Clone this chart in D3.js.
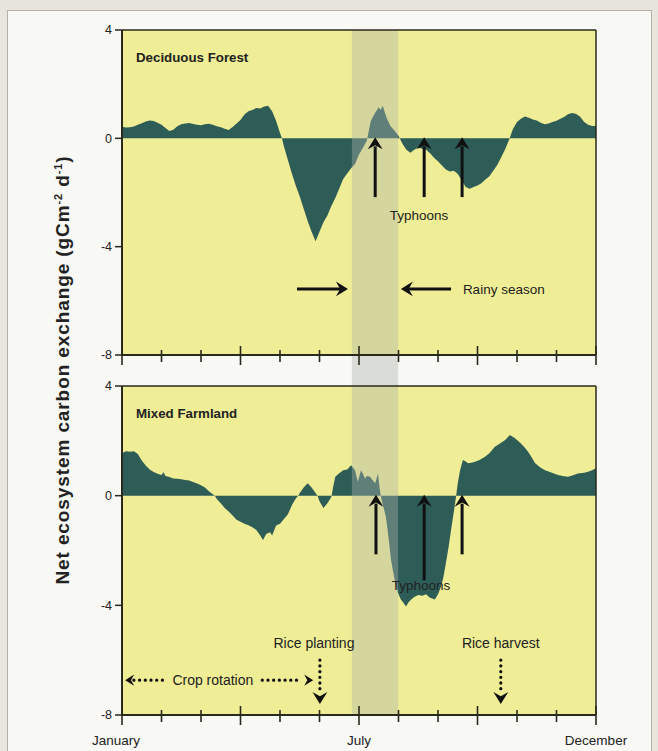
<!DOCTYPE html>
<html><head><meta charset="utf-8">
<script src="https://cdn.jsdelivr.net/npm/d3@7"></script>
<style>
body{margin:0;background:#e8e6dc;}
svg{display:block;}
text{font-family:"Liberation Sans",Arial,sans-serif;fill:#222;}
</style>
</head><body>
<svg id="c" width="658" height="751"></svg>
<script>
// ---------------- DATA ----------------
const forestMonth = [0.0,0.1,0.2,0.3,0.4,0.5,0.6,0.7,0.8,0.9,1.0,1.1,1.2,1.3,1.4,1.5,1.6,1.7,1.8,1.9,2.0,2.1,2.2,2.3,2.4,2.5,2.6,2.7,2.8,2.9,3.0,3.1,3.2,3.3,3.4,3.5,3.6,3.7,3.8,3.9,4.0,4.05,4.1,4.2,4.3,4.4,4.5,4.6,4.7,4.8,4.9,5.0,5.1,5.2,5.3,5.4,5.5,5.6,5.7,5.8,5.9,6.0,6.1,6.2,6.25,6.3,6.4,6.5,6.55,6.6,6.7,6.8,6.9,7.0,7.1,7.2,7.3,7.4,7.5,7.6,7.7,7.8,7.9,8.0,8.1,8.2,8.3,8.4,8.5,8.6,8.7,8.8,8.9,9.0,9.1,9.2,9.3,9.4,9.5,9.6,9.7,9.8,9.85,9.9,10.0,10.1,10.2,10.3,10.4,10.5,10.6,10.7,10.8,10.9,11.0,11.1,11.2,11.3,11.4,11.5,11.6,11.7,11.8,11.9,12.0];
const forestNEE = [0.43,0.40,0.41,0.44,0.50,0.56,0.62,0.66,0.64,0.58,0.50,0.38,0.27,0.32,0.45,0.52,0.55,0.57,0.53,0.50,0.48,0.52,0.54,0.50,0.45,0.41,0.35,0.31,0.42,0.55,0.68,0.88,1.00,1.05,1.12,1.10,1.18,1.20,1.00,0.65,0.20,0.0,-0.30,-0.80,-1.30,-1.75,-2.15,-2.60,-3.05,-3.45,-3.80,-3.45,-3.10,-2.85,-2.50,-2.20,-1.85,-1.50,-1.30,-1.10,-0.95,-0.60,-0.35,-0.08,0.30,0.65,0.92,1.15,1.05,1.20,0.75,0.45,0.28,0.10,-0.20,-0.42,-0.53,-0.42,-0.34,-0.38,-0.42,-0.55,-0.72,-0.85,-1.00,-1.15,-1.22,-1.20,-1.32,-1.55,-1.80,-1.86,-1.80,-1.74,-1.66,-1.52,-1.40,-1.20,-0.98,-0.70,-0.40,-0.05,0.15,0.35,0.60,0.72,0.81,0.76,0.70,0.66,0.58,0.52,0.55,0.60,0.65,0.72,0.80,0.90,0.94,0.90,0.80,0.60,0.50,0.46,0.46];

const farmMonth = [0.0,0.1,0.2,0.3,0.4,0.5,0.6,0.7,0.8,0.9,1.0,1.05,1.1,1.2,1.3,1.4,1.5,1.6,1.7,1.8,1.9,2.0,2.1,2.2,2.3,2.35,2.4,2.5,2.6,2.7,2.8,2.9,3.0,3.1,3.2,3.3,3.4,3.5,3.57,3.65,3.75,3.8,3.9,4.0,4.1,4.2,4.3,4.4,4.46,4.5,4.6,4.7,4.8,4.9,4.95,5.0,5.1,5.2,5.3,5.35,5.4,5.5,5.6,5.7,5.8,5.9,5.97,6.05,6.1,6.15,6.2,6.28,6.35,6.41,6.48,6.52,6.55,6.6,6.68,6.75,6.81,6.88,6.94,7.0,7.06,7.12,7.19,7.25,7.32,7.4,7.5,7.6,7.7,7.75,7.8,7.92,8.0,8.08,8.14,8.2,8.27,8.33,8.4,8.46,8.5,8.56,8.63,8.7,8.76,8.85,8.94,9.05,9.19,9.3,9.44,9.55,9.7,9.82,9.95,10.1,10.2,10.28,10.37,10.46,10.6,10.71,10.85,11.04,11.15,11.29,11.4,11.54,11.7,11.8,11.9,12.0];
const farmNEE = [1.55,1.62,1.60,1.62,1.52,1.28,1.10,0.95,0.86,0.80,0.75,0.85,0.72,0.68,0.63,0.62,0.60,0.57,0.55,0.50,0.44,0.38,0.30,0.16,0.05,0.0,-0.12,-0.28,-0.45,-0.58,-0.72,-0.88,-0.95,-1.02,-1.08,-1.15,-1.25,-1.45,-1.62,-1.40,-1.33,-1.45,-1.09,-1.02,-0.85,-0.68,-0.35,-0.10,0.0,0.10,0.30,0.45,0.30,0.10,0.0,-0.20,-0.45,-0.28,-0.05,0.35,0.69,0.82,0.93,0.95,1.11,0.93,0.51,0.93,0.80,0.63,0.72,0.69,0.55,0.45,0.81,0.30,0.0,-0.30,-0.76,-1.55,-2.34,-2.90,-3.31,-3.60,-3.79,-3.90,-4.04,-3.90,-3.79,-3.70,-3.62,-3.65,-3.60,-3.67,-3.72,-3.79,-3.60,-3.30,-2.95,-2.46,-1.85,-1.25,-0.60,0.0,0.45,0.93,1.30,1.25,1.18,1.20,1.24,1.30,1.42,1.55,1.78,1.88,2.03,2.21,2.09,1.90,1.75,1.60,1.40,1.18,1.02,0.93,0.85,0.75,0.72,0.69,0.74,0.81,0.84,0.87,0.93,1.0];

const yTicks = [4, 0, -4, -8];
const monthTicks = [0,1,2,3,4,5,6,7,8,9,10,11,12];
const majorTicks = [0,3,6,9,12];
const monthLabels = ["January","July","December"];
const monthLabelAt = [0,6,12];
const rainyBand = [5.82, 6.99];
const forestTyphoons = [6.41, 7.65, 8.61];
const farmTyphoons = [6.43, 7.65, 8.61];
const farmTyphoonBase = [-2.14, -3.09, -2.14];

// ---------------- LAYOUT ----------------
const svg = d3.select("#c");
const YEL = "#efed95", GRN = "#2e5d57", INK = "#2a2a1c";

svg.append("rect").attr("x",7.5).attr("y",10.5).attr("width",644).attr("height",760)
  .attr("fill","#f8f8f5").attr("stroke","#b3b1a6").attr("stroke-width",1);

const x = d3.scaleLinear().domain([0,12]).range([122,596]);
const panels = [
  {name:"Deciduous Forest", months:forestMonth, vals:forestNEE, y:d3.scaleLinear().domain([-8,4]).range([355,30])},
  {name:"Mixed Farmland", months:farmMonth, vals:farmNEE, y:d3.scaleLinear().domain([-8,4]).range([715,386])}
];

panels.forEach(p => {
  const g = svg.append("g");
  g.append("rect").attr("x",x(0)).attr("y",p.y(4)).attr("width",x(12)-x(0)).attr("height",p.y(-8)-p.y(4)).attr("fill",YEL);
  const data = p.months.map((m,i)=>[m,p.vals[i]]);
  const area = d3.area().x(d=>x(d[0])).y0(p.y(0)).y1(d=>p.y(d[1]));
  g.append("path").datum(data).attr("d",area).attr("fill",GRN);
});

// rainy season band across both panels
svg.append("rect").attr("x",x(rainyBand[0])).attr("y",panels[0].y(4))
  .attr("width",x(rainyBand[1])-x(rainyBand[0])).attr("height",panels[1].y(-8)-panels[0].y(4))
  .attr("fill","rgb(172,180,170)").attr("fill-opacity",0.4);

// axes
panels.forEach(p => {
  const g = svg.append("g");
  const y = p.y;
  g.append("line").attr("x1",x(0)).attr("x2",x(12)).attr("y1",y(4)).attr("y2",y(4)).attr("stroke",INK).attr("stroke-width",1.5);
  g.append("line").attr("x1",x(12)).attr("x2",x(12)).attr("y1",y(4)).attr("y2",y(-8)).attr("stroke",INK).attr("stroke-width",1.5);
  g.append("line").attr("x1",x(0)).attr("x2",x(0)).attr("y1",y(4)).attr("y2",y(-8)).attr("stroke",INK).attr("stroke-width",2);
  g.append("line").attr("x1",x(0)).attr("x2",x(12)).attr("y1",y(-8)).attr("y2",y(-8)).attr("stroke",INK).attr("stroke-width",2);
  g.selectAll(".mt").data(monthTicks).enter().append("line")
    .attr("x1",d=>x(d)).attr("x2",d=>x(d))
    .attr("y1",d=>y(-8)-(majorTicks.includes(d)?9:5))
    .attr("y2",d=>y(-8)+(majorTicks.includes(d)?10:7))
    .attr("stroke",INK).attr("stroke-width",1.6);
  g.selectAll(".yt").data(yTicks).enter().append("line")
    .attr("x1",x(0)-7).attr("x2",x(0)).attr("y1",d=>y(d)).attr("y2",d=>y(d))
    .attr("stroke",INK).attr("stroke-width",1.5);
  g.selectAll(".yl").data(yTicks).enter().append("text")
    .attr("x",x(0)-10).attr("y",d=>y(d)).attr("dy","0.35em").attr("text-anchor","end")
    .attr("font-size",12.5).text(d=>d);
  g.append("text").attr("x",x(0)+14).attr("y",y(4)+32).attr("font-size",13.3).attr("font-weight","bold").text(p.name);
});

// month labels
svg.selectAll(".ml").data(monthLabels).enter().append("text")
  .attr("x",(d,i)=>x(monthLabelAt[i]) - (i===0?6:0)).attr("y",745)
  .attr("text-anchor","middle").attr("font-size",13.5).attr("fill","#333").text(d=>d);

// y-axis title
const yt = svg.append("text").attr("transform","translate(69,370) rotate(-90)")
  .attr("text-anchor","middle").attr("font-size",19).attr("letter-spacing",0.9).attr("font-weight","bold").attr("fill","#222");
yt.append("tspan").text("Net ecosystem carbon exchange (gCm");
yt.append("tspan").attr("font-size",11).attr("dy",-7).text("-2");
yt.append("tspan").attr("dy",7).text(" d");
yt.append("tspan").attr("font-size",11).attr("dy",-7).text("-1");
yt.append("tspan").attr("dy",7).text(")");

// ---------------- ANNOTATIONS ----------------
function arrowHead(g, tx, ty, dir, size, color){
  const L = size, W = size*0.62, N = size*0.35;
  let pts;
  if(dir==='up') pts=[[tx,ty],[tx+W,ty+L],[tx,ty+L-N],[tx-W,ty+L]];
  if(dir==='down') pts=[[tx,ty],[tx+W,ty-L],[tx,ty-L+N],[tx-W,ty-L]];
  if(dir==='right') pts=[[tx,ty],[tx-L,ty+W],[tx-L+N,ty],[tx-L,ty-W]];
  if(dir==='left') pts=[[tx,ty],[tx+L,ty+W],[tx+L-N,ty],[tx+L,ty-W]];
  g.append("path").attr("d","M"+pts.map(p=>p.join(",")).join("L")+"Z").attr("fill",color);
}
const ann = svg.append("g");
const yF = panels[0].y, yM = panels[1].y;

forestTyphoons.forEach(m=>{
  ann.append("line").attr("x1",x(m)).attr("x2",x(m)).attr("y1",yF(-2.17)).attr("y2",yF(0)+8)
    .attr("stroke","#111").attr("stroke-width",3);
  arrowHead(ann,x(m),yF(0)-1,'up',12,"#111");
});
ann.append("text").attr("x",x(7.52)).attr("y",yF(-3.02)).attr("text-anchor","middle").attr("font-size",13.5).attr("fill","#333").text("Typhoons");

ann.append("line").attr("x1",x(4.43)).attr("x2",x(5.72)-6).attr("y1",yF(-5.56)).attr("y2",yF(-5.56)).attr("stroke","#111").attr("stroke-width",3);
arrowHead(ann,x(5.72),yF(-5.56),'right',12,"#111");
ann.append("line").attr("x1",x(8.33)).attr("x2",x(7.06)+6).attr("y1",yF(-5.56)).attr("y2",yF(-5.56)).attr("stroke","#111").attr("stroke-width",3);
arrowHead(ann,x(7.06),yF(-5.56),'left',12,"#111");
ann.append("text").attr("x",x(8.63)).attr("y",yF(-5.56)).attr("dy","0.35em").attr("font-size",13.5).attr("fill","#333").text("Rainy season");

farmTyphoons.forEach((m,i)=>{
  ann.append("line").attr("x1",x(m)).attr("x2",x(m)).attr("y1",yM(farmTyphoonBase[i])).attr("y2",yM(0)+8)
    .attr("stroke","#111").attr("stroke-width",3);
  arrowHead(ann,x(m),yM(0)-1,'up',12,"#111");
});
ann.append("text").attr("x",x(7.57)).attr("y",yM(-3.45)).attr("text-anchor","middle").attr("font-size",13.5).attr("fill","#222").text("Typhoons");

function dotted(g,x1,y1,x2,y2){
  g.append("line").attr("x1",x1).attr("x2",x2).attr("y1",y1).attr("y2",y2)
    .attr("stroke","#111").attr("stroke-width",3.2).attr("stroke-linecap","round").attr("stroke-dasharray","0.1 5.6");
}
ann.append("text").attr("x",x(4.86)).attr("y",yM(-5.56)).attr("text-anchor","middle").attr("font-size",14).attr("fill","#333").text("Rice planting");
dotted(ann,x(5.01),yM(-6.0),x(5.01),yM(-7.1));
arrowHead(ann,x(5.01),yM(-7.6),'down',12,"#111");

ann.append("text").attr("x",x(9.59)).attr("y",yM(-5.56)).attr("text-anchor","middle").attr("font-size",14).attr("fill","#333").text("Rice harvest");
dotted(ann,x(9.59),yM(-6.0),x(9.59),yM(-7.1));
arrowHead(ann,x(9.59),yM(-7.6),'down',12,"#111");

ann.append("text").attr("x",x(2.30)).attr("y",yM(-6.73)).attr("dy","0.35em").attr("text-anchor","middle").attr("font-size",14).attr("fill","#333").text("Crop rotation");
dotted(ann,x(0.3),yM(-6.73),x(1.15),yM(-6.73));
arrowHead(ann,x(0.08),yM(-6.73),'left',9,"#111");
dotted(ann,x(3.55),yM(-6.73),x(4.55),yM(-6.73));
arrowHead(ann,x(4.84),yM(-6.73),'right',9,"#111");
</script>
</body></html>
